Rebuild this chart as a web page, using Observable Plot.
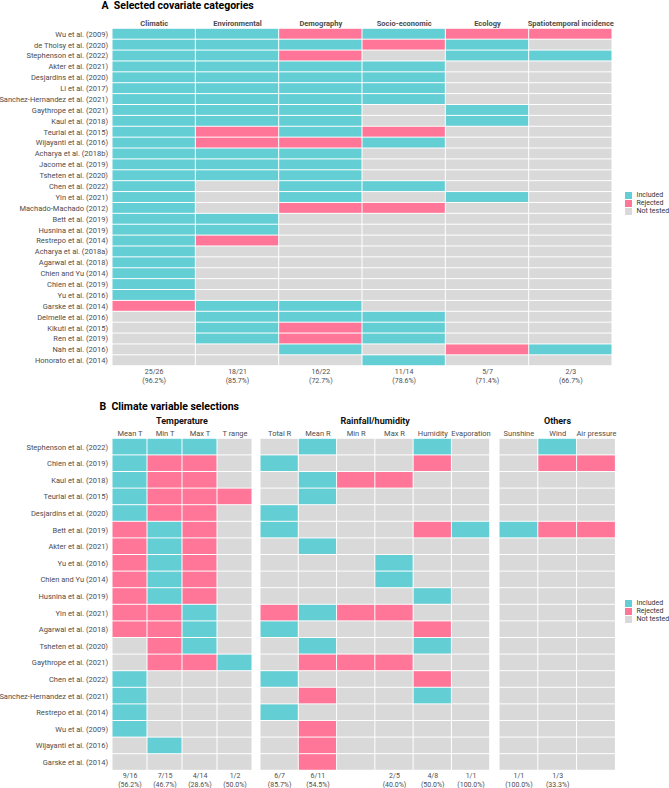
<!DOCTYPE html>
<html><head><meta charset="utf-8">
<script src="https://cdn.jsdelivr.net/npm/d3@7"></script>
<script src="https://cdn.jsdelivr.net/npm/@observablehq/plot@0.6"></script>
<style>
body{margin:0;background:#fff;font-family:Roboto,sans-serif;}
#root{position:relative;width:669px;height:788px;overflow:hidden;background:#fff;}
#root svg{overflow:visible;}
.title{font-weight:700;font-size:10.5px;color:#000;white-space:pre;line-height:11px;}
.facet{font-weight:700;font-size:9px;color:#111;white-space:nowrap;transform:translateX(-50%);line-height:12px;}
.legend{font-size:7px;color:#333;white-space:nowrap;}
.legend .item{display:flex;align-items:center;height:8px;white-space:nowrap;}
.legend .sw{width:7px;height:7px;margin-right:4.5px;flex:none;}
</style></head>
<body>
<div id="root"></div>
<script>
// ---------- data ----------
const statusNames = {I: "Included", R: "Rejected", N: "Not tested"};
const statusDomain = ["Included", "Rejected", "Not tested"];
const statusColors = ["#63CED4", "#FF7698", "#D9D9D9"];

// Panel A
const categoriesA = ["Climatic", "Environmental", "Demography", "Socio-economic", "Ecology", "Spatiotemporal incidence"];
const studiesA = [
  "Wu et al. (2009)", "de Thoisy et al. (2020)", "Stephenson et al. (2022)", "Akter et al. (2021)",
  "Desjardins et al. (2020)", "Li et al. (2017)", "Sanchez-Hernandez et al. (2021)", "Gaythrope et al. (2021)",
  "Kaul et al. (2018)", "Teurlai et al. (2015)", "Wijayanti et al. (2016)", "Acharya et al. (2018b)",
  "Jacome et al. (2019)", "Tsheten et al. (2020)", "Chen et al. (2022)", "Yin et al. (2021)",
  "Machado-Machado (2012)", "Bett et al. (2019)", "Husnina et al. (2019)", "Restrepo et al. (2014)",
  "Acharya et al. (2018a)", "Agarwal et al. (2018)", "Chien and Yu (2014)", "Chien et al. (2019)",
  "Yu et al. (2016)", "Garske et al. (2014)", "Delmelle et al. (2016)", "Kikuti et al. (2015)",
  "Ren et al. (2019)", "Nah et al. (2016)", "Honorato et al. (2014)"
];
const statusA = [
  "IIRIRR", "IIIRIN", "IIRNII", "IIIINN", "IIIINN", "IIIINN", "IIIINN", "IIININ",
  "IIININ", "IRIRNN", "IRRINN", "IIINNN", "IIINNN", "IIINNN", "INIINN", "INININ",
  "INRRNN", "IINNNN", "IINNNN", "IRNNNN", "INNNNN", "INNNNN", "INNNNN", "INNNNN",
  "INNNNN", "RIINNN", "NIIINN", "NIRINN", "NIRINN", "NNINRI", "NNNINN"
];
const countLabelsA = ["25/26\n(96.2%)", "18/21\n(85.7%)", "16/22\n(72.7%)", "11/14\n(78.6%)", "5/7\n(71.4%)", "2/3\n(66.7%)"];

// Panel B
const studiesB = [
  "Stephenson et al. (2022)", "Chien et al. (2019)", "Kaul et al. (2018)", "Teurlai et al. (2015)",
  "Desjardins et al. (2020)", "Bett et al. (2019)", "Akter et al. (2021)", "Yu et al. (2016)",
  "Chien and Yu (2014)", "Husnina et al. (2019)", "Yin et al. (2021)", "Agarwal et al. (2018)",
  "Tsheten et al. (2020)", "Gaythrope et al. (2021)", "Chen et al. (2022)", "Sanchez-Hernandez et al. (2021)",
  "Restrepo et al. (2014)", "Wu et al. (2009)", "Wijayanti et al. (2016)", "Garske et al. (2014)"
];
const temperatureVars = ["Mean T", "Min T", "Max T", "T range"];
const rainfallVars = ["Total R", "Mean R", "Min R", "Max R", "Humidity", "Evaporation"];
const otherVars = ["Sunshine", "Wind", "Air pressure"];
const temperatureStatus = [
  "IIIN", "IRRN", "IRRN", "IRRR", "IRRN", "RIRN", "RIRN", "RIRN", "RIRN", "RIRN",
  "RRIN", "RRIN", "NRIN", "NRRI", "INNN", "INNN", "INNN", "INNN", "NINN", "NNNN"
];
const rainfallStatus = [
  "NINNIN", "INNNRN", "NIRRNN", "NINNNN", "INNNNN", "INNNRI", "NINNNN", "NNNINN", "NNNINN", "NNNNIN",
  "RIRRNN", "INNNRN", "NINNIN", "NRRRNN", "INNNRN", "NRNNIN", "INNNNN", "NRNNNN", "NRNNNN", "NRNNNN"
];
const otherStatus = [
  "NIN", "NRR", "NNN", "NNN", "NNN", "IRR", "NNN", "NNN", "NNN", "NNN",
  "NNN", "NNN", "NNN", "NNN", "NNN", "NNN", "NNN", "NNN", "NNN", "NNN"
];
const temperatureCounts = ["9/16\n(56.2%)", "7/15\n(46.7%)", "4/14\n(28.6%)", "1/2\n(50.0%)"];
const rainfallCounts = ["6/7\n(85.7%)", "6/11\n(54.5%)", "", "2/5\n(40.0%)", "4/8\n(50.0%)", "1/1\n(100.0%)"];
const otherCounts = ["1/1\n(100.0%)", "1/3\n(33.3%)", ""];

// ---------- drawing ----------
const root = document.getElementById("root");
function place(el, left, top) {
  el.style.position = "absolute";
  el.style.left = left + "px";
  el.style.top = top + "px";
  root.appendChild(el);
  return el;
}
function div(cls, text) {
  const d = document.createElement("div");
  d.className = cls;
  d.textContent = text;
  return d;
}

function heat({cols, rows, codes, labels, width, height, marginLeft, marginTop, marginBottom, showY, headerWeight, bottomPad}) {
  const data = rows.flatMap((r, i) => cols.map((c, j) => ({row: r, col: c, status: statusNames[codes[i][j]]})));
  const marks = [
    Plot.cell(data, {x: "col", y: "row", fill: "status", insetTop: 0.5, insetBottom: 0.5, insetLeft: 0.5, insetRight: 0.5}),
    Plot.axisX({anchor: "top", tickSize: 0, tickPadding: 2.5, label: null, fontSize: 7.5, fontWeight: headerWeight, fill: "#4d4d4d"}),
    Plot.axisX({anchor: "bottom", tickSize: 0, tickPadding: bottomPad, label: null, fontSize: 7, fill: "#4d4d4d", lineHeight: 1.3,
      tickFormat: (d) => labels[cols.indexOf(d)]})
  ];
  if (showY) marks.push(Plot.axisY({tickSize: 0, tickPadding: 4.5, label: null, fontSize: 7.5, fill: "#4d4d4d"}));
  return Plot.plot({
    width, height, marginLeft, marginRight: 0, marginTop, marginBottom,
    x: {domain: cols, padding: 0, round: false},
    y: {domain: rows, padding: 0, round: false, axis: showY ? undefined : null},
    color: {domain: statusDomain, range: statusColors},
    style: {fontFamily: "Roboto, sans-serif", background: "transparent", overflow: "visible"},
    marks
  });
}

function legend(left, top) {
  const lg = div("legend", "");
  statusDomain.forEach((s, i) => {
    const it = document.createElement("div");
    it.className = "item";
    const sw = document.createElement("div");
    sw.className = "sw";
    sw.style.background = statusColors[i];
    it.appendChild(sw);
    const t = document.createElement("span");
    t.textContent = s;
    it.appendChild(t);
    lg.appendChild(it);
  });
  place(lg, left, top);
}

// Panel A
place(div("title", "A  Selected covariate categories"), 101.5, 0);
place(heat({cols: categoriesA, rows: studiesA, codes: statusA, labels: countLabelsA,
  width: 612, height: 395, marginLeft: 112, marginTop: 28.3, marginBottom: 29.3, showY: true, headerWeight: 700, bottomPad: 1.5}), 0, 0);
legend(625, 191);

// Panel B
place(div("title", "B  Climate variable selections"), 99.5, 400.5);
place(div("facet", "Temperature"), 182, 414.5);
place(div("facet", "Rainfall/humidity"), 375.2, 414.5);
place(div("facet", "Others"), 557.5, 414.5);
const topB = 412;
const hB = 788 - topB;
const mTopB = 438.3 - topB, mBotB = 788 - 770.3;
place(heat({cols: temperatureVars, rows: studiesB, codes: temperatureStatus, labels: temperatureCounts,
  width: 252, height: hB, marginLeft: 112, marginTop: mTopB, marginBottom: mBotB, showY: true, headerWeight: 400, bottomPad: 0.5}), 0, topB);
place(heat({cols: rainfallVars, rows: studiesB, codes: rainfallStatus, labels: rainfallCounts,
  width: 229.7, height: hB, marginLeft: 0, marginTop: mTopB, marginBottom: mBotB, showY: false, headerWeight: 400, bottomPad: 0.5}), 260.3, topB);
place(heat({cols: otherVars, rows: studiesB, codes: otherStatus, labels: otherCounts,
  width: 116.4, height: hB, marginLeft: 0, marginTop: mTopB, marginBottom: mBotB, showY: false, headerWeight: 400, bottomPad: 0.5}), 499.3, topB);
legend(625, 599);
</script>
</body></html>
